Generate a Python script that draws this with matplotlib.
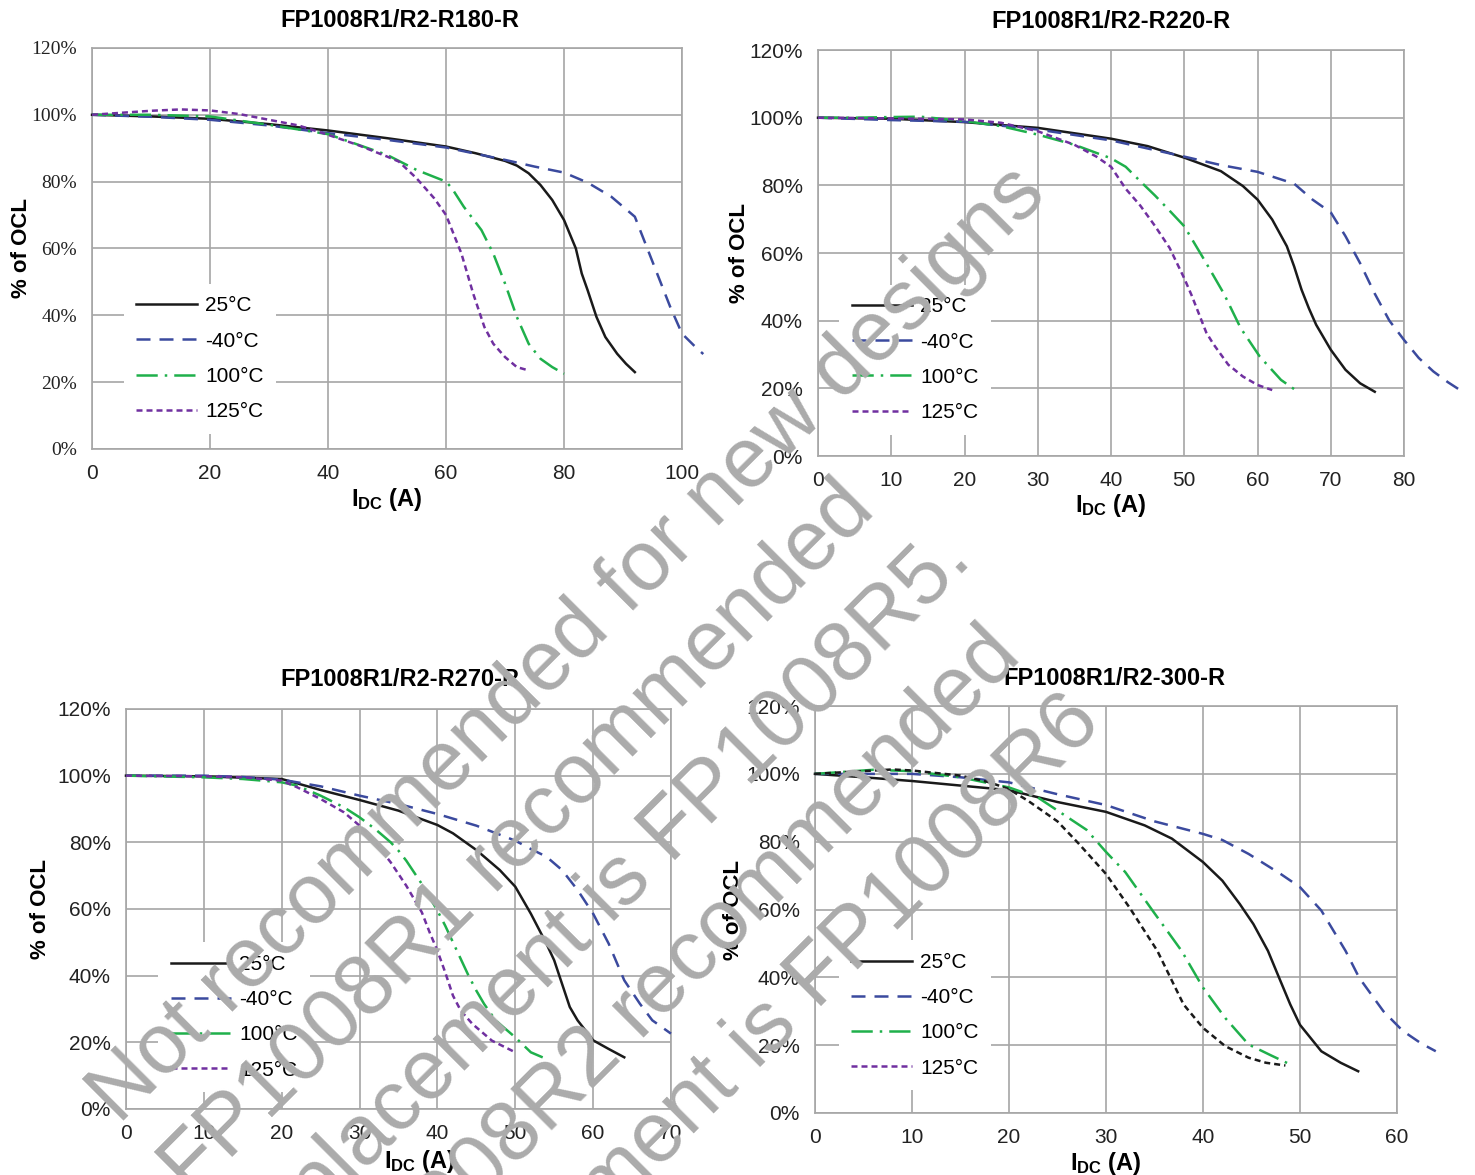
import numpy as np
import matplotlib
matplotlib.use("Agg")
import matplotlib.pyplot as plt
from matplotlib import font_manager
from matplotlib.lines import Line2D

# ---- data ----
# FP1008R1/R2-R180-R
R180_25C_I = [0, 10, 20, 30, 40, 50, 60, 65, 70, 72, 74, 76, 78, 80, 82, 83, 84, 85.5, 87, 89, 90.5, 92]
R180_25C_L = [100, 99.5, 98.8, 97.2, 95.3, 93.0, 90.5, 88.5, 86.2, 84.8, 82.5, 79.0, 74.5, 68.5, 60, 52.5, 47.5, 39.5, 33.5, 28.5, 25.5, 23]
R180_M40C_I = [0, 10, 20, 30, 40, 50, 60, 70, 75, 80, 84, 88, 92, 94, 96, 98, 100, 102, 103.6]
R180_M40C_L = [100, 99.4, 98.5, 96.8, 94.5, 92.5, 90.2, 86.5, 84.5, 82.7, 79.7, 75.5, 69.5, 60.5, 51.5, 42.5, 34.5, 31, 28.4]
R180_100C_I = [0, 10, 20, 30, 40, 50, 55, 60, 61, 63, 66, 68, 70, 72, 74, 76, 78, 80]
R180_100C_L = [100, 100, 99.5, 97, 94.2, 88, 83.5, 80, 78, 72.5, 65.5, 58.5, 49.5, 39.5, 31.5, 27, 24.5, 22.5]
R180_125C_I = [0, 5, 10, 15, 20, 25, 30, 35, 40, 45, 50, 52, 55, 58, 60, 62.6, 64.6, 66.5, 68, 70, 72, 74]
R180_125C_L = [100, 100.6, 101.2, 101.6, 101.3, 100.2, 98.5, 96.8, 94, 91, 87.5, 86, 81, 75, 70, 58.5, 46.5, 36.5, 31.5, 27.5, 24.5, 23.5]

# FP1008R1/R2-R220-R
R220_25C_I = [0, 10, 20, 30, 40, 45, 50, 55, 58, 60, 62, 64, 65, 66, 67, 68, 70, 72, 74, 76]
R220_25C_L = [100, 99.7, 98.7, 97, 93.8, 91.6, 88.2, 84.2, 79.8, 75.8, 69.9, 62, 56, 49.2, 43.7, 38.8, 31.4, 25.5, 21.5, 19]
R220_M40C_I = [0, 10, 20, 30, 40, 50, 55, 60, 65, 67.5, 70, 72, 74, 76, 78, 80, 82, 84, 86, 88]
R220_M40C_L = [100, 99.3, 98.8, 96.5, 93.3, 88.5, 86, 84, 80.5, 75.8, 72, 65, 57, 48, 40, 34.3, 29, 25, 21.8, 19]
R220_100C_I = [0, 5, 10, 14, 20, 25, 30, 35, 40, 42, 44, 46, 48, 50, 53, 55.4, 57.7, 60.3, 63.2, 65.5]
R220_100C_L = [100, 100, 100.2, 100.3, 99, 97.5, 95, 92, 88, 85.5, 81.2, 77, 72.5, 67.9, 57, 48, 37.8, 29.4, 22.5, 19]
R220_125C_I = [0, 10, 20, 25, 30, 35, 38, 40, 42, 44, 46, 48, 50, 51, 52, 53, 54, 56, 58, 60, 62]
R220_125C_L = [100, 99.8, 99.5, 98.5, 96, 92, 88.5, 85.5, 79, 74, 68, 61.5, 52.5, 47.5, 42, 36.5, 33, 27, 23.5, 21, 19.5]

# FP1008R1/R2-R270-R
R270_25C_I = [0, 10, 15, 20, 25, 30, 35, 40, 42, 45, 48, 50, 52, 54, 55, 56, 57, 58, 59, 60, 62, 64]
R270_25C_L = [100, 99.8, 99.4, 99, 95.7, 92.7, 89.5, 85.2, 82.7, 77.7, 71.7, 66.7, 58.6, 49.6, 44.6, 37.6, 30.6, 26.6, 23.6, 20.6, 18, 15.5]
R270_M40C_I = [0, 10, 15, 20, 25, 30, 35, 40, 45, 50, 52, 54, 56, 58, 60, 62, 64, 66, 67.6, 70]
R270_M40C_L = [100, 100, 99.6, 98.8, 96.8, 94, 91.5, 88.5, 85, 80.5, 78, 75.7, 71.7, 65.7, 58.6, 49.6, 38.6, 31.6, 26.6, 22.6]
R270_100C_I = [0, 10, 15, 20, 22, 25, 28, 30, 32, 34, 35, 36, 38, 40, 41, 42, 43, 44, 45, 46, 47.5, 50, 52, 54]
R270_100C_L = [100, 99.5, 99, 98, 97, 94, 90.5, 87.5, 84, 80, 77.5, 74.5, 67.5, 59.5, 55, 50, 45, 40, 35.5, 31.5, 26.5, 21.5, 17, 15]
R270_125C_I = [0, 10, 15, 20, 22, 25, 28, 30, 32, 34, 36, 38, 39, 40, 41, 42, 43, 44.5, 47, 50]
R270_125C_L = [100, 99.8, 99.5, 98.5, 96.5, 93, 89, 85, 80, 74, 67, 59, 53, 47.5, 41, 34, 29.5, 25.5, 20.5, 17]

# FP1008R1/R2-300-R
R300_25C_I = [0, 5, 10, 20, 25, 30, 34, 36.8, 40, 42, 43.8, 45.2, 46.7, 47.7, 49, 50, 52.2, 54.2, 56]
R300_25C_L = [100, 99, 97.9, 95.2, 91.7, 88.8, 84.8, 80.9, 74, 68.5, 61.6, 55.7, 47.8, 40.9, 32, 26, 18.2, 14.8, 12.3]
R300_M40C_I = [0, 5, 10, 15, 20, 25, 30, 35, 40, 42, 44.7, 48, 50, 52.2, 54.7, 56.1, 58.6, 60.6, 62.5, 64]
R300_M40C_L = [100, 100, 100, 99, 97.5, 94, 90.8, 86, 82.3, 80.5, 76.4, 70.5, 66.6, 59.7, 47.8, 39.9, 30, 24.2, 20.5, 18.2]
R300_100C_I = [0, 3, 6, 10, 15, 20, 23, 25, 28, 30, 32, 34.8, 37.8, 40, 42.3, 44.7, 47, 49]
R300_100C_L = [100, 100.6, 101.2, 100.8, 99, 96, 93, 89.2, 83.5, 77, 71, 59.7, 47.8, 37, 28, 20.2, 17, 14.3]
R300_125C_I = [0, 3, 8, 10, 15, 18, 20, 22, 25, 27.2, 30, 32.4, 35.3, 36.8, 38, 40, 42.3, 44.7, 46.5, 48.5]
R300_125C_L = [100, 100.5, 101.3, 101, 99.5, 97.5, 95.5, 92, 86, 79.4, 70.5, 60.7, 47.8, 39, 32, 25.1, 19.7, 16.3, 14.8, 14]

TEMPS = ["25°C", "-40°C", "100°C", "125°C"]
TITLES = ["FP1008R1/R2-R180-R", "FP1008R1/R2-R220-R", "FP1008R1/R2-R270-R", "FP1008R1/R2-300-R"]
XMAX = [100, 80, 70, 60]
XSTEP = [20, 10, 10, 10]

WATERMARK = ["Not recommended for new designs",
             "FP1008R1 recommended",
             "replacement is FP1008R5.",
             "FP1008R2 recommended",
             "replacement is FP1008R6"]

# ---- fonts ----
names = {f.name for f in font_manager.fontManager.ttflist}
NARROW = "Liberation Sans Narrow" if "Liberation Sans Narrow" in names else "Liberation Sans"
SANS = "Liberation Sans"
SERIF = "Liberation Serif"
plt.rcParams["mathtext.fontset"] = "custom"
plt.rcParams["mathtext.rm"] = NARROW
plt.rcParams["mathtext.bf"] = NARROW + ":bold"

BLACK = "#1a1a1a"
BLUE = "#3b4a9e"
GREEN = "#1fb04b"
PURPLE = "#7030a0"
GRID = "#a6a6a6"
LW = 1.8
STYLES = [dict(color=BLACK, linestyle="-"),
          dict(color=BLUE, linestyle=(0, (5.6, 3.6))),
          dict(color=GREEN, linestyle=(0, (8.5, 2.8, 1.0, 2.8))),
          dict(color=PURPLE, linestyle=(0, (2.4, 1.6)))]

fig = plt.figure(figsize=(14.75, 11.75), dpi=100)

# axes rectangles (figure fractions)
rects = [[0.0624, 0.6179, 0.4000, 0.3413],
         [0.5546, 0.6119, 0.3973, 0.3455],
         [0.0854, 0.0562, 0.3695, 0.3404],
         [0.5525, 0.0528, 0.3946, 0.3463]]
curves = [
    [(R180_25C_I, R180_25C_L), (R180_M40C_I, R180_M40C_L), (R180_100C_I, R180_100C_L), (R180_125C_I, R180_125C_L)],
    [(R220_25C_I, R220_25C_L), (R220_M40C_I, R220_M40C_L), (R220_100C_I, R220_100C_L), (R220_125C_I, R220_125C_L)],
    [(R270_25C_I, R270_25C_L), (R270_M40C_I, R270_M40C_L), (R270_100C_I, R270_100C_L), (R270_125C_I, R270_125C_L)],
    [(R300_25C_I, R300_25C_L), (R300_M40C_I, R300_M40C_L), (R300_100C_I, R300_100C_L), (R300_125C_I, R300_125C_L)],
]
legend_pos = [(0.054, 0.038), (0.036, 0.053), (0.059, 0.042), (0.041, 0.056)]
ylabel_x = [-0.102, -0.116, -0.137, -0.122]
xlabel_pos = [(0.5, -0.092), (0.5, -0.089), (0.54, -0.0965), (0.5, -0.09)]
title_x = [0.522, 0.5, 0.503, 0.514]
title_pad = [15, 16, 16.5, 15]

for k in range(4):
    ax = fig.add_axes(rects[k])
    for j, (xs, ys) in enumerate(curves[k]):
        st = dict(STYLES[j])
        if k == 3 and j == 3:
            st["color"] = BLACK  # drawn black in the source, legend stays purple
        ax.plot(xs, ys, lw=LW, clip_on=False, zorder=3, **st)
    ax.set_xlim(0, XMAX[k])
    ax.set_ylim(0, 120)
    ax.set_xticks(np.arange(0, XMAX[k] + 1, XSTEP[k]))
    ax.set_yticks(np.arange(0, 121, 20))
    ax.set_yticklabels([f"{v}%" for v in range(0, 121, 20)])
    ax.grid(True, color=GRID, lw=1.2, zorder=0)
    for sp in ax.spines.values():
        sp.set_color(GRID)
        sp.set_linewidth(1.2)
    ax.tick_params(length=0, pad=11, labelsize=15, labelcolor="#222222")
    for lab in ax.get_xticklabels():
        lab.set_family(NARROW)
    for lab in ax.get_yticklabels():
        if k == 0:
            lab.set_family(SERIF)
            lab.set_fontsize(14)
        else:
            lab.set_family(NARROW)
    ax.set_title(TITLES[k], fontsize=17, fontweight="bold", family=NARROW,
                 x=title_x[k], pad=title_pad[k])
    ax.set_ylabel("% of OCL", fontsize=16, fontweight="bold", family=SANS)
    ax.yaxis.set_label_coords(ylabel_x[k], 0.5)
    ax.set_xlabel(r"$\mathbf{I_{DC}}$ (A)", fontsize=17, fontweight="bold", family=NARROW)
    ax.xaxis.set_label_coords(*xlabel_pos[k])

    handles = [Line2D([], [], lw=LW, **STYLES[j]) for j in range(4)]
    leg = ax.legend(handles, TEMPS, loc="lower left", bbox_to_anchor=legend_pos[k],
                    borderaxespad=0, frameon=True, fancybox=False, framealpha=1,
                    facecolor="white", edgecolor="none", handlelength=2.9,
                    handletextpad=0.4, labelspacing=0.78, borderpad=0.6,
                    prop={"family": NARROW, "size": 15})
    leg.set_zorder(5)

# watermark: left-aligned lines rotated 45 degrees
u0, v0, dv = -712.0, 880.0, 103.0
for i, line in enumerate(WATERMARK):
    v = v0 + dv * i
    px = (u0 + v) / np.sqrt(2)
    py = (v - u0) / np.sqrt(2)
    fig.text(px / 1475, 1 - py / 1175, line, rotation=45, rotation_mode="anchor",
             ha="left", va="baseline", fontsize=61, family=SANS, color="#ababab",
             zorder=20)

fig.savefig("out.png", dpi=100)
